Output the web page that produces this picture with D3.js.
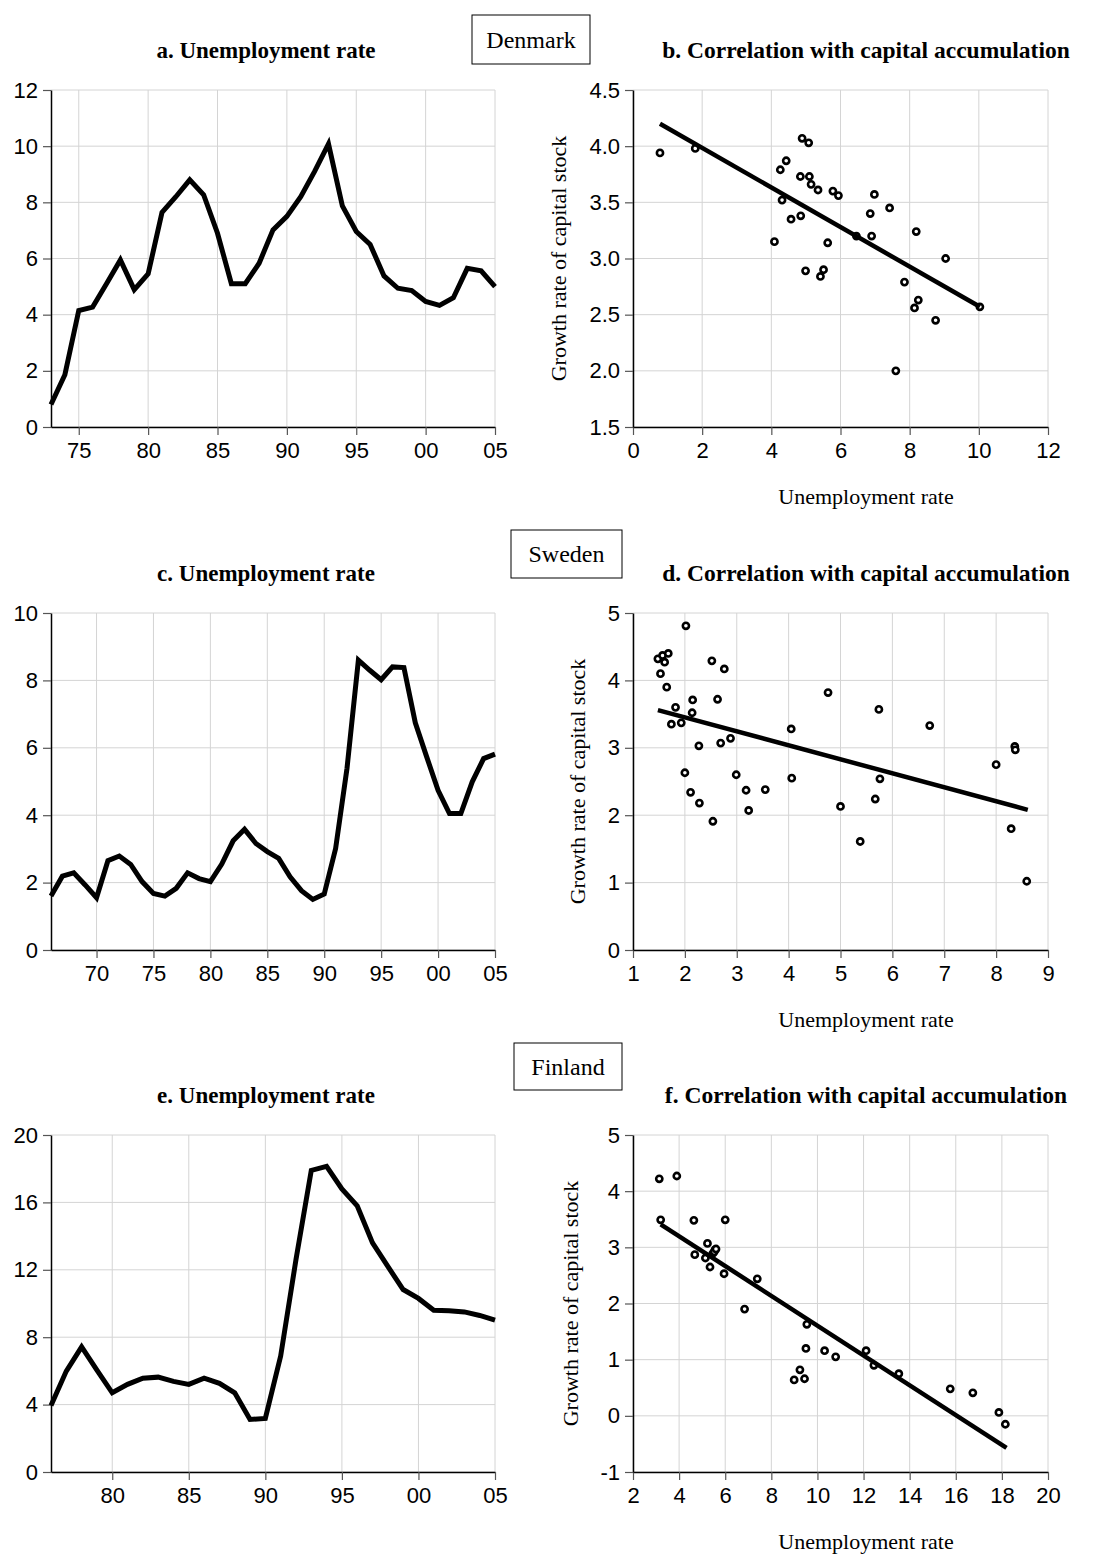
<!DOCTYPE html>
<html>
<head>
<meta charset="utf-8">
<script src="https://cdn.jsdelivr.net/npm/d3@7"></script>
<style>
  body { margin: 0; background: #fff; }
</style>
</head>
<body>
<svg width="1107" height="1555"></svg>
<script>
// Unemployment rate, yearly
const dkYears = d3.range(1973, 2006);
const dkUnemp = [0.8, 1.86, 4.15, 4.27, 5.1, 5.95, 4.89, 5.45, 7.64, 8.2, 8.8, 8.27, 6.9, 5.1, 5.1, 5.83, 7.02,
  7.5, 8.2, 9.1, 10.08, 7.87, 6.96, 6.5, 5.38, 4.94, 4.86, 4.47, 4.33, 4.6, 5.65, 5.56, 5.0];
const seYears = d3.range(1966, 2006);
const seUnemp = [1.6, 2.19, 2.29, 1.93, 1.55, 2.65, 2.79, 2.54, 2.03, 1.68, 1.6, 1.83, 2.29, 2.12, 2.03, 2.55,
  3.24, 3.58, 3.16, 2.92, 2.72, 2.17, 1.76, 1.5, 1.66, 3.01, 5.39, 8.6, 8.3, 8.02, 8.4, 8.38, 6.74, 5.73,
  4.74, 4.05, 4.05, 4.99, 5.68, 5.81];
const fiYears = d3.range(1976, 2006);
const fiUnemp = [3.95, 5.99, 7.43, 6.05, 4.7, 5.2, 5.57, 5.63, 5.38, 5.2, 5.57, 5.26, 4.7, 3.12, 3.18, 6.88,
  12.6, 17.9, 18.14, 16.8, 15.8, 13.6, 12.2, 10.83, 10.3, 9.6, 9.57, 9.5, 9.29, 9.01];

// Scatter: unemployment rate vs growth rate of capital stock
const dkScU = [0.78, 1.8, 4.89, 5.08, 4.43, 4.26, 4.84, 5.1, 5.15, 5.35, 5.78, 5.94, 4.31, 6.98, 6.86, 7.42, 4.85,
  4.57, 4.09, 5.63, 6.46, 6.9, 8.19, 9.04, 4.99, 5.51, 5.42, 7.85, 8.25, 8.14, 8.75, 10.03, 7.6];
const dkScG = [3.94, 3.98, 4.07, 4.03, 3.87, 3.79, 3.73, 3.73, 3.66, 3.61, 3.6, 3.56, 3.52, 3.57, 3.4, 3.45, 3.38,
  3.35, 3.15, 3.14, 3.2, 3.2, 3.24, 3.0, 2.89, 2.9, 2.84, 2.79, 2.63, 2.56, 2.45, 2.57, 2.0];
const seScU = [2.02, 1.48, 1.57, 1.68, 1.61, 1.53, 1.65, 2.52, 2.76, 4.76, 2.15, 2.63, 1.82, 2.14, 1.74, 1.93, 5.74,
  4.05, 6.72, 2.27, 2.69, 2.88, 8.36, 8.37, 8.0, 2.0, 2.99, 4.06, 5.76, 2.11, 3.18, 3.55, 2.28, 3.23, 5.67,
  5.0, 2.54, 8.29, 5.38, 8.59];
const seScG = [4.81, 4.32, 4.37, 4.4, 4.27, 4.1, 3.9, 4.29, 4.17, 3.82, 3.71, 3.72, 3.6, 3.52, 3.35, 3.37, 3.57,
  3.28, 3.33, 3.03, 3.07, 3.14, 3.02, 2.97, 2.75, 2.63, 2.6, 2.55, 2.54, 2.34, 2.37, 2.38, 2.18, 2.07, 2.24,
  2.13, 1.91, 1.8, 1.61, 1.02];
const fiScU = [3.14, 3.9, 3.2, 4.64, 6.0, 5.23, 4.68, 5.14, 5.56, 5.46, 5.34, 5.95, 7.39, 6.84, 9.54, 9.5, 10.31,
  10.79, 12.11, 12.45, 13.53, 9.24, 8.99, 9.44, 15.76, 16.74, 17.87, 18.15, 5.52, 5.6];
const fiScG = [4.22, 4.27, 3.49, 3.48, 3.49, 3.07, 2.87, 2.81, 2.96, 2.89, 2.65, 2.53, 2.44, 1.9, 1.63, 1.2, 1.16,
  1.05, 1.16, 0.9, 0.75, 0.82, 0.64, 0.66, 0.48, 0.41, 0.06, -0.15, 2.92, 2.97];

// fitted regression lines (end points)
const dkFit = [[0.78, 4.2], [10.03, 2.57]];
const seFit = [[1.48, 3.56], [8.61, 2.08]];
const fiFit = [[3.2, 3.41], [18.2, -0.57]];

// axis ticks
const dkYearTicks = [1975, 1980, 1985, 1990, 1995, 2000, 2005];
const seYearTicks = [1970, 1975, 1980, 1985, 1990, 1995, 2000, 2005];
const fiYearTicks = [1980, 1985, 1990, 1995, 2000, 2005];
const dkUTicks = [0, 2, 4, 6, 8, 10, 12];
const seUTicks = [0, 2, 4, 6, 8, 10];
const fiUTicks = [0, 4, 8, 12, 16, 20];
const dkScXTicks = [0, 2, 4, 6, 8, 10, 12];
const dkScYTicks = [1.5, 2.0, 2.5, 3.0, 3.5, 4.0, 4.5];
const seScXTicks = [1, 2, 3, 4, 5, 6, 7, 8, 9];
const seScYTicks = [0, 1, 2, 3, 4, 5];
const fiScXTicks = [2, 4, 6, 8, 10, 12, 14, 16, 18, 20];
const fiScYTicks = [-1, 0, 1, 2, 3, 4, 5];

const countries = ['Denmark', 'Sweden', 'Finland'];
const leftTitles = ['a. Unemployment rate', 'c. Unemployment rate', 'e. Unemployment rate'];
const rightTitles = ['b. Correlation with capital accumulation', 'd. Correlation with capital accumulation',
  'f. Correlation with capital accumulation'];

const svg = d3.select('svg');
const sans = '"Liberation Sans", Arial, sans-serif';
const serif = '"Liberation Serif", "Times New Roman", serif';

const rowTop = [90, 613, 1135];
const plotH = 337;
const leftX = [51, 495];
const rightX = [633, 1048];
const boxes = [[472, 15, 118, 49], [511, 530, 111, 48], [514, 1043, 108, 47]];
const yLabelX = [558, 577, 570];

function styleAxis(g) {
  g.select('.domain').attr('stroke', '#000').attr('stroke-width', 1.5);
  g.selectAll('.tick line').attr('stroke', '#555').attr('stroke-width', 1.2);
  g.selectAll('.tick text').attr('fill', '#000').style('font-family', sans).style('font-size', '22px');
}

function frame(x, y, xTicks, yTicks, xFmt, yFmt) {
  const g = svg.append('g');
  const [x0, x1] = x.range();
  const [y0, y1] = y.range();
  // gridlines
  g.selectAll('.vg').data(xTicks).join('line')
    .attr('x1', d => x(d)).attr('x2', d => x(d)).attr('y1', y1).attr('y2', y0)
    .attr('stroke', '#d4d4d4').attr('stroke-width', 1);
  g.selectAll('.hg').data(yTicks).join('line')
    .attr('x1', x0).attr('x2', x1).attr('y1', d => y(d)).attr('y2', d => y(d))
    .attr('stroke', '#d4d4d4').attr('stroke-width', 1);
  g.append('g').attr('transform', `translate(0,${y0})`)
    .call(d3.axisBottom(x).tickValues(xTicks).tickFormat(xFmt).tickSize(8).tickPadding(7).tickSizeOuter(0))
    .call(styleAxis);
  g.append('g').attr('transform', `translate(${x0},0)`)
    .call(d3.axisLeft(y).tickValues(yTicks).tickFormat(yFmt).tickSize(8).tickPadding(5).tickSizeOuter(0))
    .call(styleAxis);
  return g;
}

const yearFmt = d => String(d % 100).padStart(2, '0');
const plainFmt = d => String(d);

function linePanel(row, years, values, xTicks, yTicks, yMax) {
  const top = rowTop[row];
  const x = d3.scaleLinear().domain([years[0], years[years.length - 1]]).range(leftX);
  const y = d3.scaleLinear().domain([0, yMax]).range([top + plotH, top]);
  frame(x, y, xTicks, yTicks, yearFmt, plainFmt);
  svg.append('path')
    .datum(values)
    .attr('fill', 'none').attr('stroke', '#000').attr('stroke-width', 5)
    .attr('d', d3.line().x((d, i) => x(years[i])).y(d => y(d)));
}

function scatterPanel(row, us, gs, fit, xDom, yDom, xTicks, yTicks, yFmt) {
  const top = rowTop[row];
  const x = d3.scaleLinear().domain(xDom).range(rightX);
  const y = d3.scaleLinear().domain(yDom).range([top + plotH, top]);
  frame(x, y, xTicks, yTicks, plainFmt, yFmt);
  svg.append('g').selectAll('circle').data(us).join('circle')
    .attr('cx', d => x(d)).attr('cy', (d, i) => y(gs[i])).attr('r', 3.1)
    .attr('fill', '#fff').attr('stroke', '#000').attr('stroke-width', 2.6);
  svg.append('path')
    .datum(fit)
    .attr('fill', 'none').attr('stroke', '#000').attr('stroke-width', 4.5)
    .attr('d', d3.line().x(d => x(d[0])).y(d => y(d[1])));
  svg.append('text')
    .attr('x', 866).attr('y', top + plotH + 77)
    .attr('text-anchor', 'middle')
    .style('font-family', serif).style('font-size', '22px')
    .text('Unemployment rate');
  svg.append('text')
    .attr('transform', `translate(${yLabelX[row]},${top + plotH / 2}) rotate(-90)`)
    .attr('text-anchor', 'middle').attr('dy', '0.35em')
    .style('font-family', serif).style('font-size', '22px')
    .text('Growth rate of capital stock');
}

linePanel(0, dkYears, dkUnemp, dkYearTicks, dkUTicks, 12);
linePanel(1, seYears, seUnemp, seYearTicks, seUTicks, 10);
linePanel(2, fiYears, fiUnemp, fiYearTicks, fiUTicks, 20);

scatterPanel(0, dkScU, dkScG, dkFit, [0, 12], [1.5, 4.5], dkScXTicks, dkScYTicks, d3.format('.1f'));
scatterPanel(1, seScU, seScG, seFit, [1, 9], [0, 5], seScXTicks, seScYTicks, plainFmt);
scatterPanel(2, fiScU, fiScG, fiFit, [2, 20], [-1, 5], fiScXTicks, fiScYTicks, plainFmt);

// titles and country boxes
rowTop.forEach((top, i) => {
  svg.append('text')
    .attr('x', 266).attr('y', top - 32)
    .attr('text-anchor', 'middle')
    .style('font-family', serif).style('font-size', '23px').style('font-weight', 'bold')
    .text(leftTitles[i]);
  svg.append('text')
    .attr('x', 866).attr('y', top - 32)
    .attr('text-anchor', 'middle')
    .style('font-family', serif).style('font-size', '23.5px').style('font-weight', 'bold')
    .text(rightTitles[i]);
  const b = boxes[i];
  svg.append('rect')
    .attr('x', b[0]).attr('y', b[1]).attr('width', b[2]).attr('height', b[3])
    .attr('fill', '#fff').attr('stroke', '#000').attr('stroke-width', 1);
  svg.append('text')
    .attr('x', b[0] + b[2] / 2).attr('y', b[1] + b[3] / 2).attr('dy', '0.35em')
    .attr('text-anchor', 'middle')
    .style('font-family', serif).style('font-size', '24px')
    .text(countries[i]);
});
</script>
</body>
</html>
